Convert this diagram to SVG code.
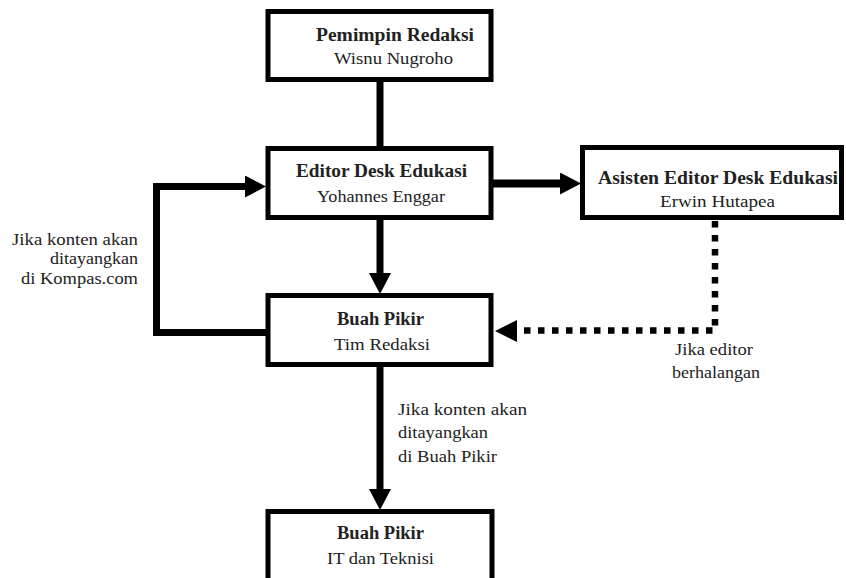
<svg xmlns="http://www.w3.org/2000/svg" width="846" height="578" viewBox="0 0 846 578">
<defs>
<style>
.box{fill:#fff;stroke:#000;stroke-width:5}
.t{font-family:'Liberation Serif','Times New Roman',serif;font-size:17.5px;fill:#222}
.b{font-weight:bold;font-size:18px}
.ln{fill:none;stroke:#000;stroke-width:7}
.dot{fill:none;stroke:#000;stroke-width:6.5;stroke-dasharray:6.5 7.5}
</style>
<marker id="ah" markerUnits="userSpaceOnUse" markerWidth="21" markerHeight="22" refX="0" refY="11" orient="auto" viewBox="0 0 21 22">
<path d="M0,0 L21,11 L0,22 Z" fill="#000"/>
</marker>
</defs>
<rect width="846" height="578" fill="#fff"/>
<g id="connectors">
<line class="ln" x1="380" y1="80" x2="380" y2="149"/>
<line class="ln" x1="380" y1="218" x2="380" y2="273" marker-end="url(#ah)"/>
<line class="ln" x1="380" y1="365" x2="380" y2="489" marker-end="url(#ah)"/>
<line class="ln" style="stroke-width:8" x1="491" y1="183.5" x2="560" y2="183.5" marker-end="url(#ah)"/>
<polyline class="ln" points="268,332.5 156.5,332.5 156.5,186.5 245,186.5" marker-end="url(#ah)"/>
<polyline class="dot" points="715,221 715,330.5 517,330.5"/>
<path d="M517,320 L495,331 L517,342 Z" fill="#000"/>
</g>
<g id="n1">
<rect class="box" x="268" y="11.5" width="223" height="68"/>
<text class="t b" x="316" y="41" textLength="158" lengthAdjust="spacingAndGlyphs">Pemimpin Redaksi</text>
<text class="t" x="334" y="64" textLength="119" lengthAdjust="spacingAndGlyphs">Wisnu Nugroho</text>
</g>
<g id="n2">
<rect class="box" x="268" y="148.5" width="223" height="69"/>
<text class="t b" x="296" y="177" textLength="171" lengthAdjust="spacingAndGlyphs">Editor Desk Edukasi</text>
<text class="t" x="317" y="202" textLength="128" lengthAdjust="spacingAndGlyphs">Yohannes Enggar</text>
</g>
<g id="n3">
<rect class="box" x="582.5" y="147.5" width="259" height="70"/>
<text class="t b" x="598" y="184" textLength="240" lengthAdjust="spacingAndGlyphs">Asisten Editor Desk Edukasi</text>
<text class="t" x="660" y="207" textLength="115" lengthAdjust="spacingAndGlyphs">Erwin Hutapea</text>
</g>
<g id="n4">
<rect class="box" x="268" y="295.5" width="223" height="69"/>
<text class="t b" x="337" y="325" textLength="87" lengthAdjust="spacingAndGlyphs">Buah Pikir</text>
<text class="t" x="334" y="350" textLength="96" lengthAdjust="spacingAndGlyphs">Tim Redaksi</text>
</g>
<g id="n5">
<rect class="box" x="268" y="511.5" width="224" height="80"/>
<text class="t b" x="337" y="539" textLength="87" lengthAdjust="spacingAndGlyphs">Buah Pikir</text>
<text class="t" x="327" y="564" textLength="107" lengthAdjust="spacingAndGlyphs">IT dan Teknisi</text>
</g>
<g id="labels">
<text class="t" x="12" y="245" textLength="126" lengthAdjust="spacingAndGlyphs">Jika konten akan</text>
<text class="t" x="50" y="264" textLength="88" lengthAdjust="spacingAndGlyphs">ditayangkan</text>
<text class="t" x="21" y="284" textLength="117" lengthAdjust="spacingAndGlyphs">di Kompas.com</text>
<text class="t" x="398" y="415" textLength="129" lengthAdjust="spacingAndGlyphs">Jika konten akan</text>
<text class="t" x="398" y="438" textLength="90" lengthAdjust="spacingAndGlyphs">ditayangkan</text>
<text class="t" x="398" y="462" textLength="99" lengthAdjust="spacingAndGlyphs">di Buah Pikir</text>
<text class="t" x="675" y="355" textLength="78" lengthAdjust="spacingAndGlyphs">Jika editor</text>
<text class="t" x="672" y="378" textLength="88" lengthAdjust="spacingAndGlyphs">berhalangan</text>
</g>
</svg>
